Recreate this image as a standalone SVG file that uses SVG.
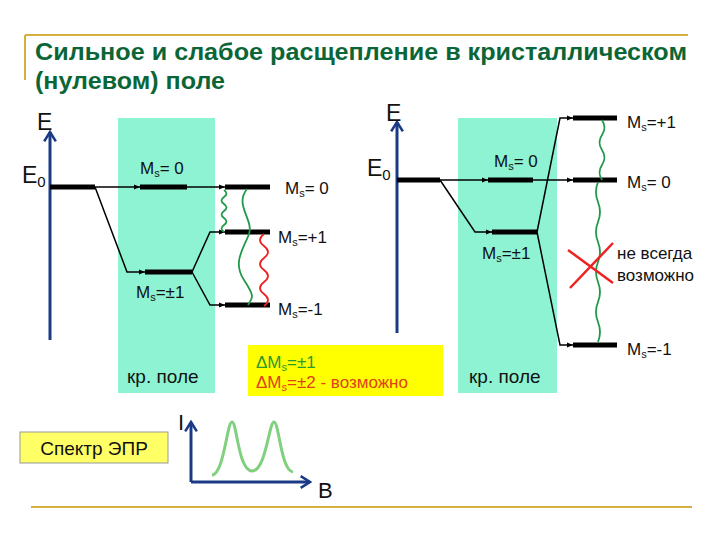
<svg xmlns="http://www.w3.org/2000/svg" width="720" height="540" viewBox="0 0 720 540">
<style>
text{font-family:"Liberation Sans",Arial,sans-serif;fill:#111}
.t{font-weight:bold;fill:#0b6637;font-size:23px}
.lv{stroke:#000;stroke-width:5;fill:none}
.cn{stroke:#000;stroke-width:1.5;fill:none}
.ax{stroke:#1b3a86;stroke-width:3;fill:none}
.ms{font-size:17px}
.sub{font-size:11px}
.kr{font-size:19px}
.wg{stroke:#1f9a4a;stroke-width:1.8;fill:none}
.wr{stroke:#ee2222;stroke-width:1.8;fill:none}
.gold{stroke:#d4b040;stroke-width:2;fill:none}
</style>
<defs>
<marker id="ar" viewBox="0 0 10 10" refX="10" refY="5" markerWidth="6" markerHeight="6" orient="auto" markerUnits="userSpaceOnUse">
<path d="M0,1 L10,5 L0,9 Z" fill="#000"/>
</marker>
<marker id="ch" viewBox="0 0 12 12" refX="10" refY="6" markerWidth="14" markerHeight="14" orient="auto" markerUnits="userSpaceOnUse">
<path d="M2,1 L10,6 L2,11" fill="none" stroke="#1b3a86" stroke-width="2.2"/>
</marker>
</defs>
<rect width="720" height="540" fill="#fff"/>
<!-- title -->
<g id="title">
<path class="gold" d="M25,35 H688 M25,35 V80"/>
<text class="t" x="35" y="60" textLength="652" lengthAdjust="spacingAndGlyphs">Сильное и слабое расщепление в кристаллическом</text>
<text class="t" x="35" y="89" textLength="190" lengthAdjust="spacingAndGlyphs">(нулевом) поле</text>
</g>
<!-- crystal field bands -->
<g id="field-left"><rect x="118" y="118" width="97" height="275" fill="#8ef3d2"/><text class="kr" x="127" y="383">кр. поле</text></g>
<g id="field-right"><rect x="458" y="118" width="99" height="275" fill="#8ef3d2"/><text class="kr" x="469" y="383">кр. поле</text></g>
<!-- axes -->
<g id="axis-left"><path class="ax" d="M50,340 V132" marker-end="url(#ch)"/><text x="37" y="130" font-size="23">E</text><text x="22" y="183" font-size="23">E<tspan font-size="15" dy="4">0</tspan></text></g>
<g id="axis-right"><path class="ax" d="M397,333 V122" marker-end="url(#ch)"/><text x="386" y="121" font-size="23">E</text><text x="367" y="176" font-size="23">E<tspan font-size="15" dy="4">0</tspan></text></g>
<!-- connectors -->
<g id="connectors">
<path class="cn" d="M95,187 H140" marker-end="url(#ar)"/>
<path class="cn" d="M187,187 H225" marker-end="url(#ar)"/>
<path class="cn" d="M95,187 L127,272 H145" marker-end="url(#ar)"/>
<path class="cn" d="M192,272 L210,232 H225" marker-end="url(#ar)"/>
<path class="cn" d="M192,272 L210,305 H225" marker-end="url(#ar)"/>
<path class="cn" d="M440,180 H488" marker-end="url(#ar)"/>
<path class="cn" d="M533,180 H573" marker-end="url(#ar)"/>
<path class="cn" d="M440,180 L475,232 H492" marker-end="url(#ar)"/>
<path class="cn" d="M537,232 L560,118 H573" marker-end="url(#ar)"/>
<path class="cn" d="M537,232 L560,345 H573" marker-end="url(#ar)"/>
</g>
<!-- left levels -->
<g id="L-E0"><path class="lv" d="M50,187 H95"/></g>
<g id="L-c0"><path class="lv" d="M140,187 H187"/><text class="ms" x="140" y="174">M<tspan class="sub" dy="3">s</tspan><tspan dy="-3">= 0</tspan></text></g>
<g id="L-c1"><path class="lv" d="M145,272 H192"/><text class="ms" x="136" y="298">M<tspan class="sub" dy="3">s</tspan><tspan dy="-3">=±1</tspan></text></g>
<g id="L-0"><path class="lv" d="M225,187 H270"/><text class="ms" x="285" y="194">M<tspan class="sub" dy="3">s</tspan><tspan dy="-3">= 0</tspan></text></g>
<g id="L-p1"><path class="lv" d="M225,232 H270"/><text class="ms" x="278" y="243">M<tspan class="sub" dy="3">s</tspan><tspan dy="-3">=+1</tspan></text></g>
<g id="L-m1"><path class="lv" d="M225,305 H270"/><text class="ms" x="278" y="315">M<tspan class="sub" dy="3">s</tspan><tspan dy="-3">=-1</tspan></text></g>
<!-- right levels -->
<g id="R-E0"><path class="lv" d="M397,180 H440"/></g>
<g id="R-c0"><path class="lv" d="M488,180 H533"/><text class="ms" x="494" y="167">M<tspan class="sub" dy="3">s</tspan><tspan dy="-3">= 0</tspan></text></g>
<g id="R-c1"><path class="lv" d="M492,232 H537"/><text class="ms" x="482" y="259">M<tspan class="sub" dy="3">s</tspan><tspan dy="-3">=±1</tspan></text></g>
<g id="R-p1"><path class="lv" d="M573,118 H617"/><text class="ms" x="627" y="128">M<tspan class="sub" dy="3">s</tspan><tspan dy="-3">=+1</tspan></text></g>
<g id="R-0"><path class="lv" d="M573,180 H617"/><text class="ms" x="627" y="188">M<tspan class="sub" dy="3">s</tspan><tspan dy="-3">= 0</tspan></text></g>
<g id="R-m1"><path class="lv" d="M573,345 H617"/><text class="ms" x="627" y="355">M<tspan class="sub" dy="3">s</tspan><tspan dy="-3">=-1</tspan></text></g>
<!-- transitions -->
<g id="transitions">
<path class="wg" d="M224,190 q5,3.5 0,7 q-5,3.5 0,7 q5,3.5 0,7 q-5,3.5 0,7 q5,3.5 0,7 q-5,3.5 0,7"/>
<path class="wg" d="M247,189 C234,205 254,220 249,234 S232,262 244,280 S252,298 248,305"/>
<path class="wr" d="M264,234 q-8,6 0,12 q8,6 0,12 q-8,6 0,12 q8,6 0,12 q-8,6 0,12 q8,6 0,12"/>
<path class="wg" d="M602,120 q5,7.5 0,15 q-5,7.5 0,15 q5,7.5 0,15 q-5,7.5 0,15"/>
<path class="wg" d="M598,182 q-4,10 0,20 q4,10 0,20 q-4,10 0,20 q4,10 0,20 q-4,10 0,20 q4,10 0,20 q-4,10 0,20 q4,10 0,20"/>
<path d="M568,250 L613,283 M613,243 L570,288" stroke="#ee2222" stroke-width="2.5" fill="none"/>
<text x="617" y="259" font-size="17">не всегда</text>
<text x="617" y="281" font-size="17">возможно</text>
</g>
<!-- rule box -->
<g id="rules">
<rect x="248" y="345" width="195" height="51" fill="#ffff00"/>
<text x="256" y="368" font-size="17" style="fill:#2a9a2a">ΔM<tspan class="sub" dy="3" style="fill:#2a9a2a">s</tspan><tspan dy="-3" style="fill:#2a9a2a">=±1</tspan></text>
<text x="256" y="388" font-size="17" style="fill:#e0401a">ΔM<tspan class="sub" dy="3" style="fill:#e0401a">s</tspan><tspan dy="-3" style="fill:#e0401a">=±2 - возможно</tspan></text>
</g>
<!-- spectrum -->
<g id="spectrum-label"><rect x="20" y="432" width="148" height="31" fill="#ffff66" stroke="#999" stroke-width="1"/><text x="94" y="455" font-size="19" text-anchor="middle">Спектр ЭПР</text></g>
<g id="spectrum">
<path class="ax" d="M191,482 V422" marker-end="url(#ch)"/>
<path class="ax" d="M191,482 H310" marker-end="url(#ch)"/>
<text x="178" y="430" font-size="22">I</text>
<text x="318" y="498" font-size="22">B</text>
<path d="M212,475 C224,474 227,422 232,422 C237,422 238,470 252,471 C266,471 269,422 274,422 C279,422 281,471 293,472" stroke="#80d080" stroke-width="3" fill="none"/>
</g>
<path class="gold" d="M31,507 H692"/>
</svg>
